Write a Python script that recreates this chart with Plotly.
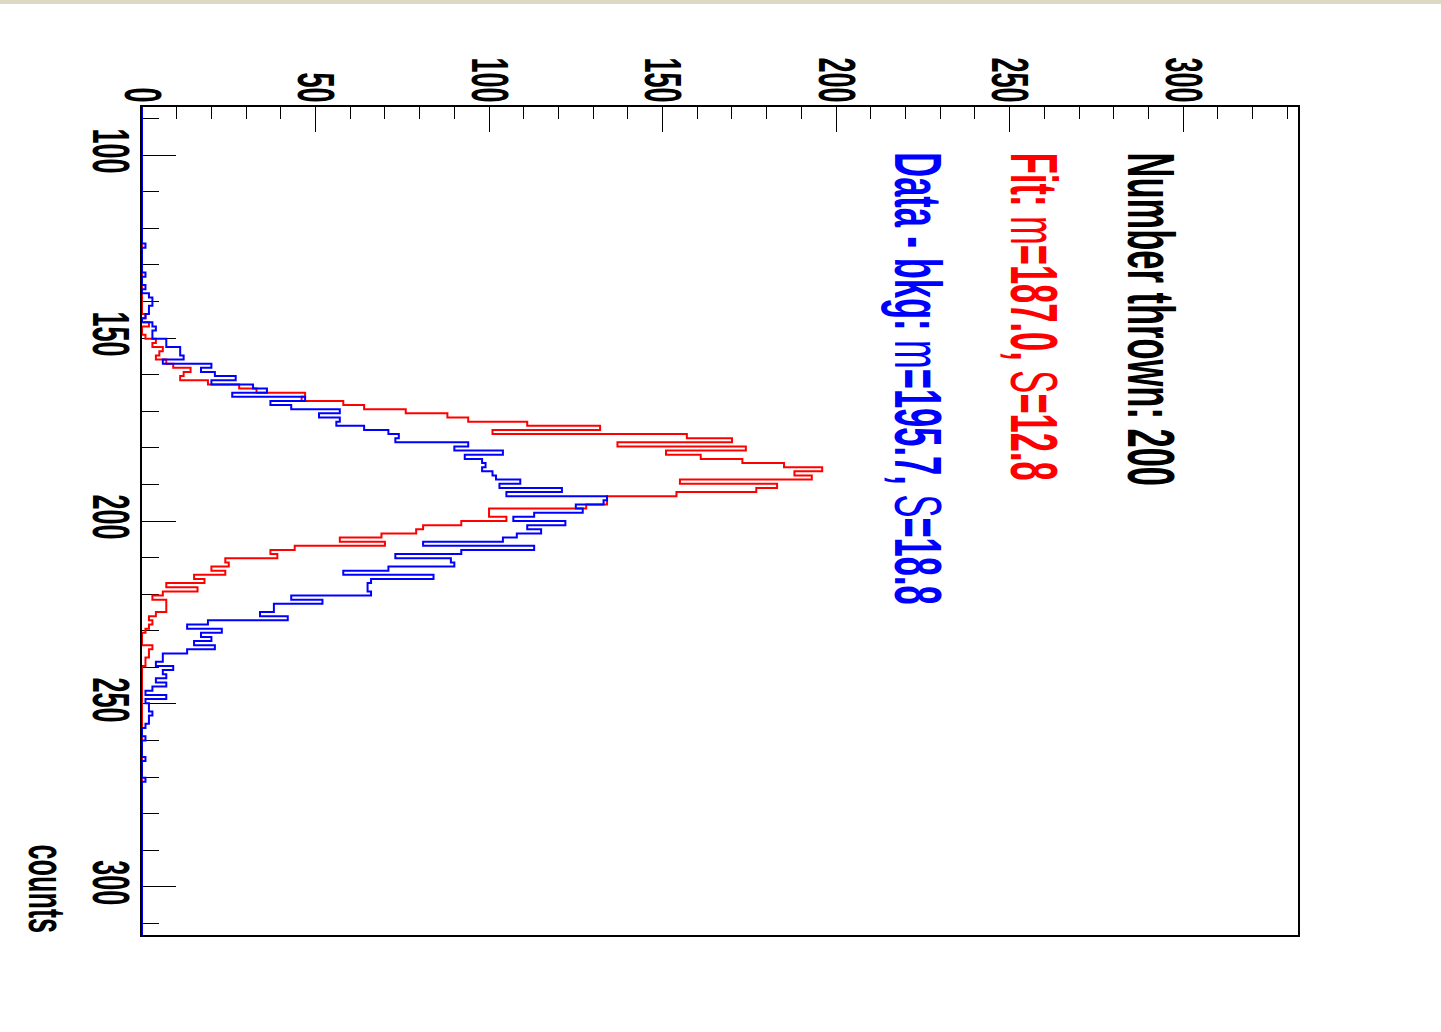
import numpy as np
import plotly.graph_objects as go

# Histogram binning (200 equal bins over the displayed mass range)
N_BINS = 200
MASS_LO, MASS_HI = 86.86, 313.14
COUNT_MAX = 333.1

# Fitted-shape histogram, bin contents starting at bin 50
fit_first_bin = 50
fit_counts = [
    1, 0, 2, 0, 0, 1, 4, 3, 6, 5,
    4, 7, 9, 14, 12, 11, 19, 28, 33, 47,
    46, 58, 64, 76, 88, 94, 111, 132, 101, 157,
    170, 137, 174, 151, 161, 173, 185, 196, 188, 193,
    155, 183, 177, 154, 134, 134, 128, 100, 100, 105,
    92, 81, 79, 69, 57, 70, 44, 37, 39, 24,
    25, 20, 24, 15, 18, 7, 16, 6, 3, 7,
    7, 7, 4, 2, 3, 2, 1, 0, 0, 0,
    3, 2, 2, 1, 1,
]

# Background-subtracted data histogram, bin contents starting at bin 30
data_first_bin = 30
data_counts = [
    0, 0, 0, 1, 0, 0, 0, 0, 0, 0,
    1, 0, 0, 1, 0, 2, 3, 3, 2, 2,
    1, 0, 3, 4, 3, 3, 7, 7, 11, 11,
    12, 6, 20, 17, 21, 27, 20, 32, 36, 26,
    47, 37, 43, 57, 51, 57, 56, 64, 71, 74,
    73, 94, 90, 104, 93, 98, 99, 98, 101, 102,
    109, 103, 121, 105, 134, 133, 125, 127, 113, 107,
    122, 111, 115, 108, 104, 81, 113, 92, 73, 89,
    90, 71, 58, 84, 66, 65, 65, 66, 43, 52,
    38, 38, 34, 42, 19, 13, 23, 17, 20, 15,
    21, 13, 6, 6, 4, 9, 6, 7, 4, 7,
    3, 1, 7, 1, 2, 2, 3, 2, 2, 1,
    0, 0, 1, 0, 0, 0, 0, 1, 0, 0,
    0, 0, 1,
]

count_ticks = [0, 50, 100, 150, 200, 250, 300]
mass_ticks = [100, 150, 200, 250, 300]

title_lines = {
    "thrown": "Number thrown: 200",
    "fit": "<b>Fit: </b>m<b>=187.0, </b>S<b>=12.8</b>",
    "data": "<b>Data - bkg: </b>m<b>=195.7, </b>S<b>=18.8</b>",
}
axis_title = "counts"


def full_hist(first_bin, counts):
    h = np.zeros(N_BINS)
    h[first_bin:first_bin + len(counts)] = counts
    return h


edges = np.linspace(MASS_LO, MASS_HI, N_BINS + 1)
fit_hist = full_hist(fit_first_bin, fit_counts)
data_hist = full_hist(data_first_bin, data_counts)

FONT = "Liberation Sans, Arial, Helvetica, sans-serif"

fig = go.Figure()
for hist, color in [(fit_hist, "#ff0000"), (data_hist, "#0000ff")]:
    fig.add_trace(go.Scatter(
        x=np.append(hist, hist[-1]),
        y=edges,
        mode="lines",
        line=dict(color=color, width=2, shape="vh"),
        hoverinfo="skip",
        showlegend=False,
    ))

axis_common = dict(
    showline=True, linecolor="black", linewidth=2, mirror=True,
    showgrid=False, zeroline=False,
    ticks="inside", tickcolor="black", tickwidth=1,
    tickangle=90,
    tickfont=dict(family=FONT, size=27, color="black", weight="bold"),
    layer="below traces",
)

fig.update_layout(
    width=1441, height=1032,
    margin=dict(l=142, r=143, t=107, b=97),
    paper_bgcolor="white", plot_bgcolor="white",
    showlegend=False,
    xaxis=dict(
        axis_common, side="top", range=[0, COUNT_MAX],
        tickmode="array", tickvals=count_ticks,
        ticktext=[str(v) for v in count_ticks],
        ticklen=25, ticklabelstandoff=-7,
        minor=dict(dtick=10, tick0=0, ticks="inside", ticklen=12,
                   tickcolor="black", tickwidth=1),
    ),
    yaxis=dict(
        axis_common, range=[MASS_HI, MASS_LO],
        tickmode="array", tickvals=mass_ticks,
        ticktext=[str(v) for v in mass_ticks],
        ticklen=34, ticklabelstandoff=6,
        minor=dict(dtick=10, tick0=0, ticks="inside", ticklen=17,
                   tickcolor="black", tickwidth=1),
    ),
)

# Rotated text block in the upper right of the frame
text_top = 98.8
for key, xpos, color in [("thrown", 290.8, "black"),
                         ("fit", 257.3, "#ff0000"),
                         ("data", 223.6, "#0000ff")]:
    txt = title_lines[key]
    fig.add_annotation(
        x=xpos, y=text_top, xref="x", yref="y",
        text=txt if key != "thrown" else "<b>" + txt + "</b>",
        showarrow=False, textangle=90,
        xanchor="center", yanchor="top",
        font=dict(family=FONT, size=34.5, color=color, weight="normal"),
    )

# Title of the mass axis, placed at its far end
fig.add_annotation(
    x=-95 / 1156, y=MASS_HI, xref="paper", yref="y",
    text="<b>" + axis_title + "</b>", showarrow=False, textangle=90,
    xanchor="center", yanchor="bottom",
    font=dict(family=FONT, size=27, color="black"),
)

# Thin beige strip along the top edge of the canvas
fig.add_shape(
    type="rect", xref="paper", yref="paper",
    x0=-142 / 1156, x1=1 + 143 / 1156,
    y0=1 + 103 / 828, y1=1 + 107 / 828,
    fillcolor="#ddd8c2", line=dict(width=0), layer="above",
)

# The canvas font is tall and narrow: stretch glyph height of all text
post_js = """
var gd = document.getElementById('{plot_id}');
var SY = 1.93;
function stretchText() {
  var nodes = gd.querySelectorAll('g.xtick text, g.ytick text, text.annotation-text');
  nodes.forEach(function (t) {
    var tr = t.getAttribute('transform') || '';
    if (tr.indexOf('scale(1,') !== -1) return;
    var bb = t.getBBox();
    var cy = bb.y + bb.height / 2;
    t.setAttribute('transform', tr + ' translate(0,' + cy + ') scale(1,' + SY + ') translate(0,' + (-cy) + ')');
  });
}
stretchText();
gd.on('plotly_afterplot', stretchText);
"""

fig.write_html("out.html", post_script=post_js)
